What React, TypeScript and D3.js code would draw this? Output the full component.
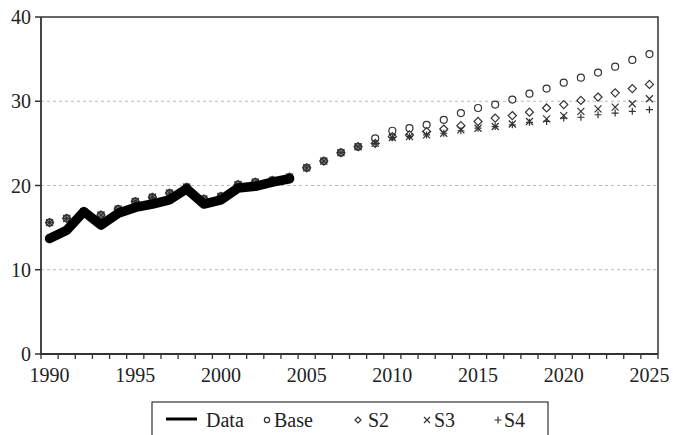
import React from 'react';
import * as d3 from 'd3';

// categories
const years = [
  1990, 1991, 1992, 1993, 1994, 1995, 1996, 1997, 1998, 1999, 2000, 2001,
  2002, 2003, 2004, 2005, 2006, 2007, 2008, 2009, 2010, 2011, 2012, 2013,
  2014, 2015, 2016, 2017, 2018, 2019, 2020, 2021, 2022, 2023, 2024, 2025,
];
const labelYears = [1990, 1995, 2000, 2005, 2010, 2015, 2020, 2025];
const yTicks = [0, 10, 20, 30, 40];

// observed data 1990-2004
const dataYears = [1990, 1991, 1992, 1993, 1994, 1995, 1996, 1997, 1998, 1999, 2000, 2001, 2002, 2003, 2004];
const dataValues = [13.7, 14.7, 16.9, 15.3, 16.7, 17.4, 17.8, 18.3, 19.6, 17.8, 18.3, 19.7, 19.9, 20.4, 20.8];

// model series, 1990-2025
const baseValues = [
  15.6, 16.1, 16.9, 16.5, 17.2, 18.1, 18.6, 19.1, 19.8, 18.4, 18.7, 20.1,
  20.4, 20.6, 21.0, 22.1, 22.9, 23.9, 24.6, 25.6, 26.5, 26.8, 27.2, 27.8,
  28.6, 29.2, 29.6, 30.2, 30.9, 31.5, 32.2, 32.8, 33.4, 34.1, 34.9, 35.6,
];
const s2Values = [
  15.6, 16.1, 16.9, 16.5, 17.2, 18.1, 18.6, 19.1, 19.8, 18.4, 18.7, 20.1,
  20.4, 20.6, 21.0, 22.1, 22.9, 23.9, 24.6, 25.0, 25.8, 26.0, 26.4, 26.7,
  27.1, 27.6, 28.0, 28.3, 28.7, 29.2, 29.6, 30.1, 30.5, 31.0, 31.5, 32.0,
];
const s3Values = [
  15.6, 16.1, 16.9, 16.5, 17.2, 18.1, 18.6, 19.1, 19.8, 18.4, 18.7, 20.1,
  20.4, 20.6, 21.0, 22.1, 22.9, 23.9, 24.6, 25.0, 25.7, 25.8, 26.0, 26.2,
  26.6, 26.8, 27.0, 27.3, 27.6, 27.9, 28.3, 28.8, 29.1, 29.3, 29.7, 30.3,
];
const s4Values = [
  15.6, 16.1, 16.9, 16.5, 17.2, 18.1, 18.6, 19.1, 19.8, 18.4, 18.7, 20.1,
  20.4, 20.6, 21.0, 22.1, 22.9, 23.9, 24.6, 25.0, 25.7, 25.8, 26.0, 26.2,
  26.5, 26.8, 27.0, 27.2, 27.5, 27.6, 28.0, 28.1, 28.4, 28.6, 28.8, 29.0,
];

const W = 673;
const H = 435;
const left = 41;
const right = 658;
const top = 17;
const bottom = 354;
const ink = '#333';
const textStyle = { fontFamily: 'Liberation Serif', fontSize: '20px' };

const x = d3.scaleBand<number>().domain(years).range([left, right]).padding(0);
const cx = (yr: number) => (x(yr) as number) + x.bandwidth() / 2;
const y = d3.scaleLinear().domain([0, 40]).range([bottom, top]);

const Marker = ({ kind, px, py, s }: { kind: string; px: number; py: number; s: number }) => {
  if (kind === 'circle') return <circle cx={px} cy={py} r={s} fill="none" stroke={ink} strokeWidth={1.2} />;
  if (kind === 'diamond')
    return (
      <path
        d={`M${px},${py - s * 1.15}L${px + s * 1.15},${py}L${px},${py + s * 1.15}L${px - s * 1.15},${py}Z`}
        fill="none"
        stroke={ink}
        strokeWidth={1.2}
      />
    );
  if (kind === 'x')
    return (
      <path
        d={`M${px - s},${py - s}L${px + s},${py + s}M${px - s},${py + s}L${px + s},${py - s}`}
        stroke={ink}
        strokeWidth={1.2}
      />
    );
  return (
    <path d={`M${px - s},${py}L${px + s},${py}M${px},${py - s}L${px},${py + s}`} stroke={ink} strokeWidth={1.2} />
  );
};

const series = [
  { name: 'Base', kind: 'circle', values: baseValues },
  { name: 'S2', kind: 'diamond', values: s2Values },
  { name: 'S3', kind: 'x', values: s3Values },
  { name: 'S4', kind: 'plus', values: s4Values },
];

export default function App() {
  const line = d3
    .line<number>()
    .x((_, i) => cx(dataYears[i]))
    .y((d) => y(d));

  const edges = [...years.map((yr) => x(yr) as number), right];

  return (
    <svg width={W} height={H} style={{ position: 'absolute', left: 0, top: 0, background: '#fff' }}>
      {/* grid */}
      {yTicks
        .filter((t) => t > 0 && t < 40)
        .map((t) => (
          <line key={t} x1={left} x2={right} y1={y(t)} y2={y(t)} stroke="#bbb" strokeWidth={1} strokeDasharray="3,3" />
        ))}

      {/* frame */}
      <path d={`M${left},${top}H${right}V${bottom}`} fill="none" stroke={ink} strokeWidth={1.5} />
      <path d={`M${left},${top}V${bottom}H${right}`} fill="none" stroke={ink} strokeWidth={1.8} />

      {/* y ticks */}
      {yTicks.map((t) => (
        <g key={t}>
          <line x1={left - 6} x2={left} y1={y(t)} y2={y(t)} stroke={ink} strokeWidth={1.5} />
          <text x={left - 10} y={y(t) + 7} textAnchor="end" style={textStyle} fill="#222">
            {t}
          </text>
        </g>
      ))}

      {/* x ticks */}
      {edges.map((e, i) => (
        <line key={i} x1={e} x2={e} y1={bottom} y2={bottom + 5} stroke={ink} strokeWidth={1.3} />
      ))}
      {labelYears.map((yr) => (
        <text key={yr} x={cx(yr)} y={382} textAnchor="middle" style={textStyle} fill="#222">
          {yr}
        </text>
      ))}

      {/* scenario markers */}
      {series.map((s) => (
        <g key={s.name}>
          {s.values.map((v, i) => (
            <Marker key={i} kind={s.kind} px={cx(years[i])} py={y(v)} s={3.5} />
          ))}
        </g>
      ))}

      {/* observed data */}
      <path d={line(dataValues) || ''} fill="none" stroke="#000" strokeWidth={9.5} strokeLinejoin="round" strokeLinecap="round" />

      {/* legend */}
      <rect x={152} y={402} width={396} height={40} fill="#fff" stroke={ink} strokeWidth={1.2} />
      <line x1={166} x2={197} y1={419} y2={419} stroke="#000" strokeWidth={3} />
      <text x={206} y={427} style={textStyle} fill="#222">Data</text>
      <Marker kind="circle" px={267} py={420} s={2.6} />
      <text x={274} y={427} style={textStyle} fill="#222">Base</text>
      <Marker kind="diamond" px={358} py={420} s={2.6} />
      <text x={368} y={427} style={textStyle} fill="#222">S2</text>
      <Marker kind="x" px={427} py={420} s={3} />
      <text x={434} y={427} style={textStyle} fill="#222">S3</text>
      <Marker kind="plus" px={498} py={420} s={3.5} />
      <text x={504} y={427} style={textStyle} fill="#222">S4</text>
    </svg>
  );
}
